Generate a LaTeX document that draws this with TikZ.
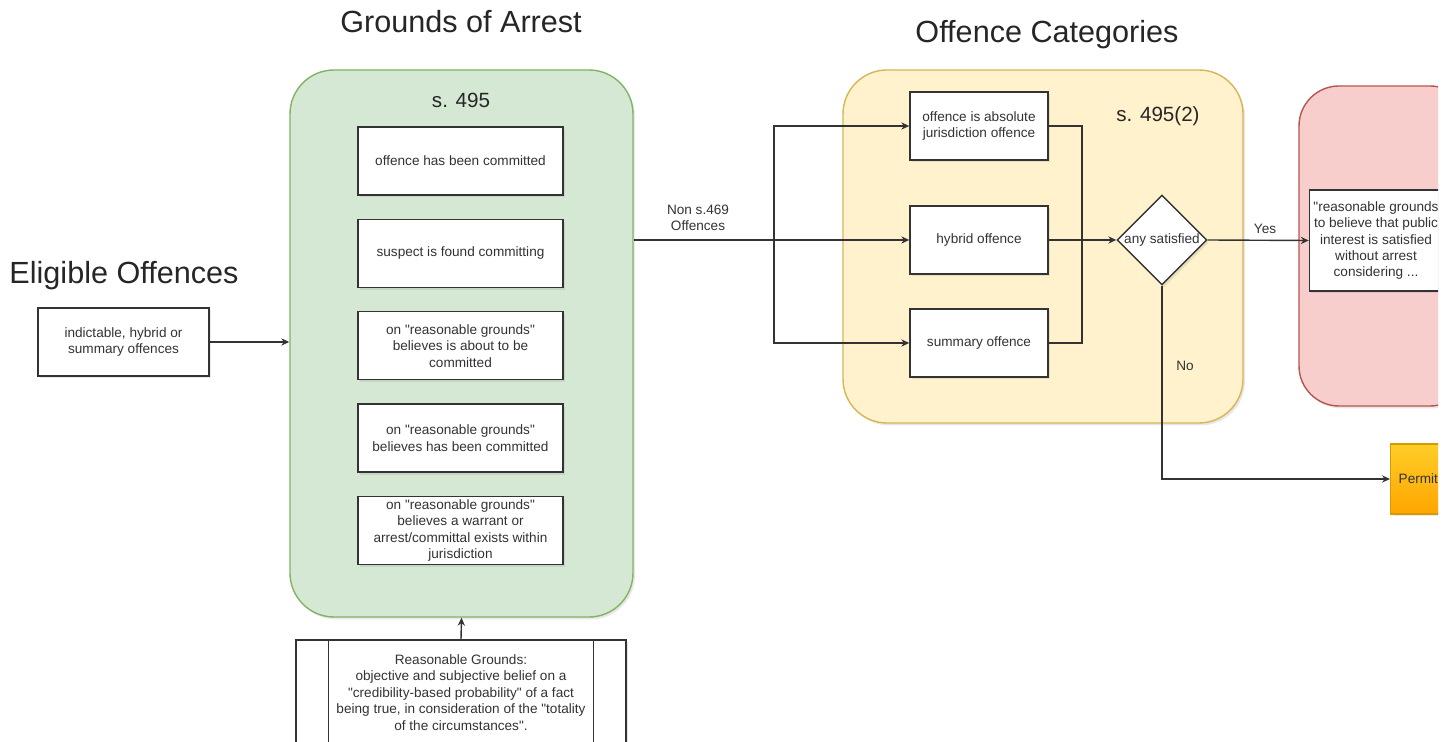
\documentclass[tikz,border=0pt]{standalone}
\usepackage{fontspec}
\setmainfont{Liberation Sans}[Ligatures=TeXOff]
\usetikzlibrary{arrows.meta, positioning, calc, shapes.geometric, shadows}
\definecolor{grnf}{HTML}{D5E8D4}
\definecolor{grnd}{HTML}{82B366}
\definecolor{yelf}{HTML}{FFF2CC}
\definecolor{yeld}{HTML}{D6B656}
\definecolor{redf}{HTML}{F8CECC}
\definecolor{redd}{HTML}{B85450}
\definecolor{orgt}{HTML}{FFCD28}
\definecolor{orgb}{HTML}{FFA500}
\definecolor{orgd}{HTML}{D79B00}
\definecolor{inkc}{HTML}{333333}

\begin{document}
\begin{tikzpicture}[x=0.5pt, y=-0.5pt, >={Stealth[length=4pt, width=3.6pt]}, line width=0.7pt,
    every node/.style={text=inkc, font=\fontsize{6.8}{8.2}\selectfont},
    title/.style={text=black!85, font=\fontsize{15.3}{18}\selectfont},
    heading/.style={text=black!85, font=\fontsize{10.3}{12}\selectfont},
    softshadow/.style={drop shadow={shadow xshift=1pt, shadow yshift=-1.2pt, opacity=0.18}},
    panel/.style={draw=#1d, fill=#1f, rounded corners=22pt, softshadow},
    crit/.style={draw=inkc, fill=white, align=center, inner xsep=2pt, inner ysep=0.5pt, softshadow},
    permitbox/.style={draw=orgd, top color=orgt, bottom color=orgb, inner sep=4pt, softshadow}]
  \useasboundingbox (0,0) rectangle (1450,742);
  \fill[white] (0,0) rectangle (1450,742);
  \clip (0,0) rectangle (1438,742);

  % titles
  \node[title] (ttlelig) at (124,276) {Eligible Offences};
  \node[title] (ttlgrnd) at (461,22) {Grounds of Arrest};
  \node[title] (ttlcat) at (1047,35) {Offence Categories};

  % eligible offences
  \node[crit, minimum width=85.5pt, minimum height=34pt]
    (elig) at (123.5,342) {indictable, hybrid or\\summary offences};

  % grounds of arrest (s. 495)
  \node[panel=grn, minimum width=171.5pt, minimum height=273.5pt]
    (grounds) at (461.5,343.5) {};
  \node[heading] (s495) at (461,100) {s. 495};
  \node[crit, minimum width=102.5pt, minimum height=34pt]
    (g1) at (460.5,161) {offence has been committed};
  \node[crit, minimum width=102.5pt, minimum height=34pt, below=11.5pt of g1]
    (g2) {suspect is found committing};
  \node[crit, minimum width=102.5pt, minimum height=34pt, below=11.5pt of g2]
    (g3) {on "reasonable grounds"\\believes is about to be\\committed};
  \node[crit, minimum width=102.5pt, minimum height=34pt, below=11.5pt of g3]
    (g4) {on "reasonable grounds"\\believes has been committed};
  \node[crit, minimum width=102.5pt, minimum height=34pt, below=11.5pt of g4]
    (g5) {on "reasonable grounds"\\believes a warrant or\\arrest/committal exists within\\jurisdiction};

  % reasonable grounds (process box)
  \node[crit, minimum width=165pt, minimum height=52.5pt]
    (rg) at (461,692.5) {Reasonable Grounds:\\objective and subjective belief on a\\"credibility-based probability" of a fact\\being true, in consideration of the "totality\\of the circumstances".};
  \draw[inkc] ($(rg.north west)+(16.5pt,0)$) -- ($(rg.south west)+(16.5pt,0)$);
  \draw[inkc] ($(rg.north east)+(-16.5pt,0)$) -- ($(rg.south east)+(-16.5pt,0)$);

  % offence categories (s. 495(2))
  \node[panel=yel, minimum width=200pt, minimum height=176.5pt]
    (cats) at (1043,246.5) {};
  \node[heading] (s4952) at (1158,116) {s. 495(2)};
  \node[crit, minimum width=69pt, minimum height=34pt]
    (absolute) at (979,126) {offence is absolute\\jurisdiction offence};
  \node[crit, minimum width=69pt, minimum height=34pt]
    (hybrid) at (979,240) {hybrid offence};
  \node[crit, minimum width=69pt, minimum height=34pt]
    (summary) at (979,343) {summary offence};
  \node[draw=inkc, fill=white, diamond, aspect=1, inner sep=0pt, minimum size=45pt, softshadow]
    (decide) at (1162,240) {any satisfied};

  % public interest
  \node[panel=red, rounded corners=20pt, minimum width=85.5pt, minimum height=160pt]
    (pubpanel) at (1384.5,246) {};
  \node[crit, minimum width=66pt, minimum height=50.5pt]
    (pubint) at (1376,240.5) {"reasonable grounds\\to believe that public\\interest is satisfied\\without arrest\\considering ...};
  \node[permitbox, anchor=west, text width=48pt, align=left, minimum height=35pt]
    (permit) at (1390,479) {Permit};

  % connectors
  \coordinate (split) at (774,240);
  \coordinate (merge) at (1082,240);
  \draw[->, inkc] (elig) -- (grounds.west |- elig);
  \draw[->, inkc] (rg.north) -- (grounds.south);
  \draw[->, inkc] (grounds.east |- hybrid) -- (hybrid.west);
  \foreach \n in {absolute, summary}{
    \draw[->, inkc] (split) |- (\n.west);
    \draw[inkc] (\n.east) -| (merge);
  }
  \draw[->, inkc] (hybrid.east) -- (decide.west);
  \draw[->, inkc] (decide.east) -- (pubint.west);
  \draw[->, inkc] (decide.south) |- (permit.west);

  % connector labels
  \node[align=center] (nonlbl) at (698,218) {Non s.469\\Offences};
  \node (yeslbl) at (1265,229) {Yes};
  \node (nolbl) at (1185,366) {No};
\end{tikzpicture}
\end{document}
